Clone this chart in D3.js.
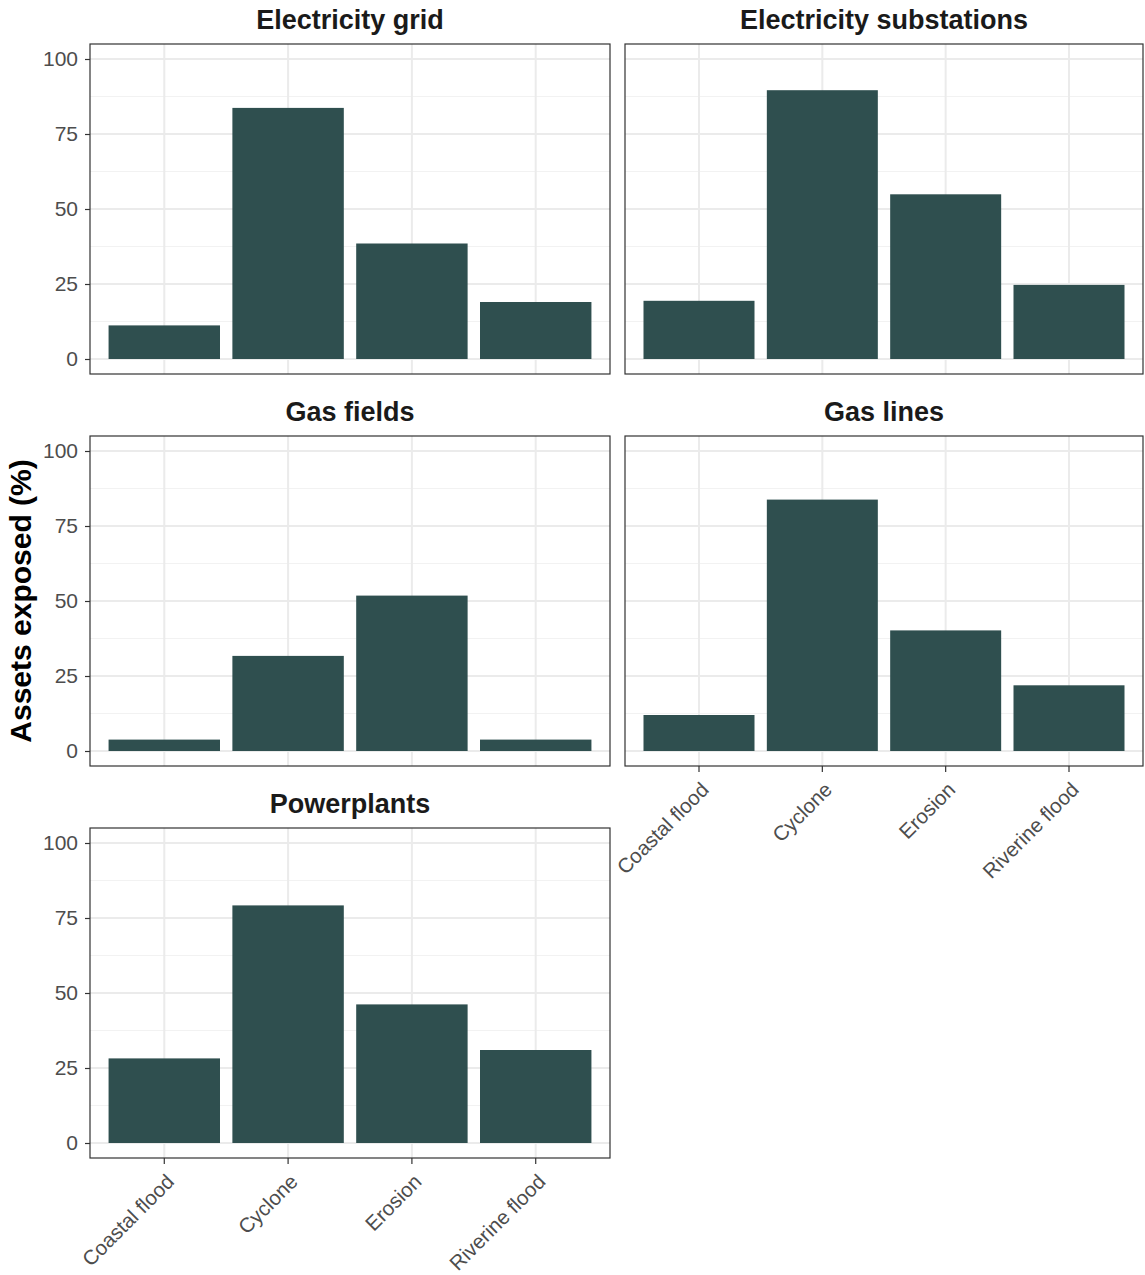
<!DOCTYPE html>
<html lang="en">
<head>
    <meta charset="UTF-8">
    <title>Assets exposed</title>
    <script src="https://d3js.org/d3.v7.min.js"></script>
    <style>
        body { margin: 0; background: #fff; }
        svg { font-family: "Liberation Sans", Arial, sans-serif; }
    </style>
</head>
<body>
    <svg width="1145" height="1275"></svg>

    <script>
        // data (% of assets exposed)
        const hazards = ["Coastal flood", "Cyclone", "Erosion", "Riverine flood"];
        const electricityGrid = [11.2, 83.7, 38.5, 19.0];
        const electricitySubstations = [19.4, 89.6, 54.9, 24.7];
        const gasFields = [3.8, 31.7, 51.8, 3.8];
        const gasLines = [12.0, 83.8, 40.2, 21.9];
        const powerplants = [28.2, 79.2, 46.2, 31.0];
        const panelTitles = ["Electricity grid", "Electricity substations", "Gas fields", "Gas lines", "Powerplants"];
        const yTicks = [0, 25, 50, 75, 100];
        const yMinor = [12.5, 37.5, 62.5, 87.5];

        const panelValues = [electricityGrid, electricitySubstations, gasFields, gasLines, powerplants];

        const svg = d3.select('svg');

        // facet layout
        const colX = [90, 625];
        const panelW = [520, 518];
        const rowY = [44, 436, 828];
        const panelH = 330;
        const barColor = "#2f4f4f";

        const y = d3.scaleLinear().domain([-5, 105]).range([panelH, 0]);

        panelTitles.forEach((title, i) => {
            const col = i % 2;
            const row = Math.floor(i / 2);
            const w = panelW[col];
            const g = svg.append("g")
                .attr("transform", `translate(${colX[col]},${rowY[row]})`);

            const x = d3.scaleBand()
                .domain(hazards)
                .range([0, w])
                .paddingInner(0.1)
                .paddingOuter(0.15);

            // grid
            g.selectAll(".minor").data(yMinor).join("line")
                .attr("x1", 0).attr("x2", w)
                .attr("y1", d => y(d)).attr("y2", d => y(d))
                .attr("stroke", "#f2f2f2").attr("stroke-width", 1);
            g.selectAll(".major").data(yTicks).join("line")
                .attr("x1", 0).attr("x2", w)
                .attr("y1", d => y(d)).attr("y2", d => y(d))
                .attr("stroke", "#ebebeb").attr("stroke-width", 2);
            g.selectAll(".vgrid").data(hazards).join("line")
                .attr("x1", d => x(d) + x.bandwidth() / 2)
                .attr("x2", d => x(d) + x.bandwidth() / 2)
                .attr("y1", 0).attr("y2", panelH)
                .attr("stroke", "#ebebeb").attr("stroke-width", 2);

            // bars
            g.selectAll("rect.bar").data(panelValues[i]).join("rect")
                .attr("class", "bar")
                .attr("x", (d, j) => x(hazards[j]))
                .attr("width", x.bandwidth())
                .attr("y", d => y(d))
                .attr("height", d => y(0) - y(d))
                .attr("fill", barColor);

            // panel border
            g.append("rect")
                .attr("x", 0).attr("y", 0)
                .attr("width", w).attr("height", panelH)
                .attr("fill", "none")
                .attr("stroke", "#333333").attr("stroke-width", 1.2);

            // title
            g.append("text")
                .attr("x", w / 2)
                .attr("y", -15)
                .attr("text-anchor", "middle")
                .attr("font-size", 27)
                .attr("font-weight", "bold")
                .attr("fill", "#1a1a1a")
                .text(title);

            // y axis only on left column
            if (col === 0) {
                const yAxis = g.append("g")
                    .call(d3.axisLeft(y).tickValues(yTicks).tickSize(5).tickPadding(7));
                yAxis.select(".domain").remove();
                yAxis.selectAll(".tick line").attr("stroke", "#333333").attr("stroke-width", 1.2);
                yAxis.selectAll(".tick text")
                    .attr("font-size", 21)
                    .attr("fill", "#4d4d4d")
                    .attr("font-family", "Liberation Sans, Arial, sans-serif");
            }

            // x axis on the bottom panel of each column
            if (i === 3 || i === 4) {
                const xAxis = g.append("g")
                    .attr("transform", `translate(0,${panelH})`)
                    .call(d3.axisBottom(x).tickSize(6));
                xAxis.select(".domain").remove();
                xAxis.selectAll(".tick line").attr("stroke", "#333333").attr("stroke-width", 1.2);
                xAxis.selectAll(".tick text")
                    .attr("font-size", 20.5)
                    .attr("fill", "#4d4d4d")
                    .attr("font-family", "Liberation Sans, Arial, sans-serif")
                    .attr("text-anchor", "end")
                    .attr("y", 0)
                    .attr("dy", null)
                    .attr("transform", "translate(11,25) rotate(-45)");
            }
        });

        // shared y label
        svg.append("text")
            .attr("transform", "translate(31,601) rotate(-90)")
            .attr("text-anchor", "middle")
            .attr("font-size", 30)
            .attr("font-weight", "bold")
            .attr("fill", "#000")
            .text("Assets exposed (%)");
    </script>
</body>
</html>
